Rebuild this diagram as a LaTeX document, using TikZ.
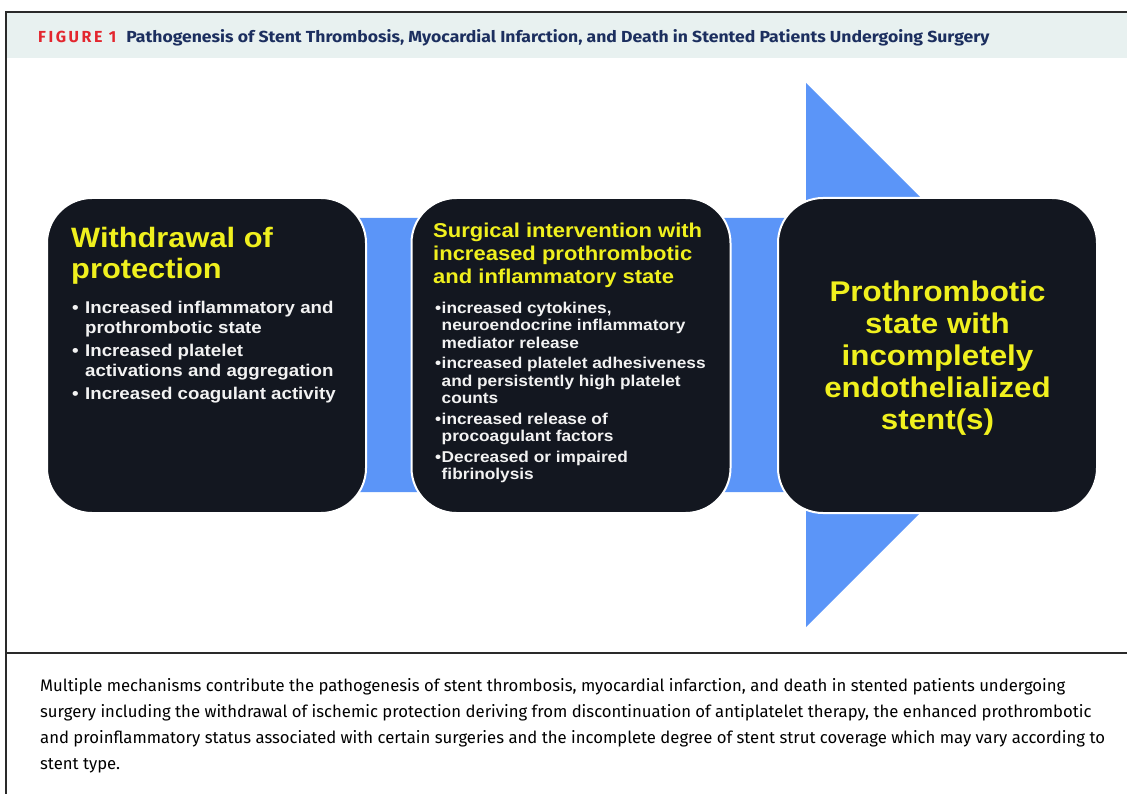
\documentclass[tikz,border=0pt]{standalone}
\usepackage{fontspec}
\setmainfont{Liberation Sans}
\newfontfamily\boxfont{Liberation Sans}[FakeStretch=1.1]
\newfontfamily\capfont{Fira Sans}
\newfontfamily\titlefont{Fira Sans}[FakeStretch=1.1]
\newfontfamily\figfont{Fira Sans}[LetterSpace=16]

\definecolor{arrowblue}{HTML}{5B95F8}
\definecolor{boxfill}{HTML}{131720}
\definecolor{hiyellow}{HTML}{F0F01E}
\definecolor{bullwhite}{HTML}{F2F2F2}
\definecolor{headband}{HTML}{E8F1F0}
\definecolor{titlenavy}{HTML}{1C2F5F}
\definecolor{figred}{HTML}{E3262E}
\definecolor{framegray}{HTML}{2A2A2A}

\tikzset{
  stagebox/.style={rounded corners=45pt, fill=boxfill, draw=white, line width=2pt,
    minimum width=319pt, minimum height=315pt, inner sep=0pt},
  headtext/.style={anchor=north west, inner sep=0pt, text=hiyellow, align=left,
    font=\boxfont\bfseries},
  listtext/.style={anchor=north west, inner sep=0pt, text=bullwhite,
    font=\boxfont\bfseries},
  frameline/.style={draw=framegray, line width=1.6pt}
}

% bullet item with hanging indent
\newcommand{\itm}[2]{\hangindent=#1\hangafter=1\noindent\makebox[#1][l]{\textbullet}#2\par}

\begin{document}
\begin{tikzpicture}[x=1pt,y=-1pt]
\useasboundingbox (0,0) rectangle (1127,794);

% header band and frame
\fill[headband] (6,12) rectangle (1127,58);
\draw[frameline] (1127,12) -- (6,12) -- (6,794);
\draw[frameline] (6,653) -- (1127,653);

\node[anchor=west, inner sep=0pt, font=\fontsize{16}{18}\selectfont]
  (title) at (38,38) {\textcolor{figred}{\figfont\bfseries FIGURE 1}\hspace{10pt}\textcolor{titlenavy}{\titlefont\bfseries Pathogenesis of Stent Thrombosis, Myocardial Infarction, and Death in Stented Patients Undergoing Surgery}};

% big block arrow behind the stages
\fill[arrowblue] (200,218) -- (806,218) -- (806,83) -- (1078,355) -- (806,627) -- (806,492) -- (200,492) -- cycle;

% stages
\node[stagebox] (s1) at (206.5,355.5) {};
\node[stagebox] (s2) at (571,355.5) {};
\node[stagebox] (s3) at (937.5,355.5) {};

% stage 1 text
\node[headtext, font=\boxfont\bfseries\fontsize{28}{31}\selectfont] (t1) at (71,227)
  {Withdrawal of\\protection};
\node[listtext] (l1) at (72,301) {\parbox[t]{290pt}{\fontsize{17}{20}\selectfont
  \setlength{\parskip}{3pt}%
  \itm{13pt}{Increased inflammatory and\\prothrombotic state}
  \itm{13pt}{Increased platelet\\activations and aggregation}
  \itm{13pt}{Increased coagulant activity}}};

% stage 2 text
\node[headtext, font=\boxfont\bfseries\fontsize{20}{23}\selectfont] (t2) at (433,223)
  {Surgical intervention with\\increased prothrombotic\\and inflammatory state};
\node[listtext] (l2) at (435,302) {\parbox[t]{290pt}{\fontsize{15.7}{17.3}\selectfont
  \setlength{\parskip}{3.5pt}%
  \itm{6.5pt}{increased cytokines,\\neuroendocrine inflammatory\\mediator release}
  \itm{6.5pt}{increased platelet adhesiveness\\and persistently high platelet\\counts}
  \itm{6.5pt}{increased release of\\procoagulant factors}
  \itm{6.5pt}{Decreased or impaired\\fibrinolysis}}};

% stage 3 text
\node[inner sep=0pt, text=hiyellow, align=center,
  font=\boxfont\bfseries\fontsize{28.5}{32}\selectfont] (t3) at (937.5,358)
  {Prothrombotic\\state with\\incompletely\\endothelialized\\stent(s)};

% caption
\node[anchor=north west, inner sep=0pt, align=left, text=black,
  font=\capfont\fontsize{16.7}{26}\selectfont] (cap) at (40,678)
  {Multiple mechanisms contribute the pathogenesis of stent thrombosis, myocardial infarction, and death in stented patients undergoing\\
   surgery including the withdrawal of ischemic protection deriving from discontinuation of antiplatelet therapy, the enhanced prothrombotic\\
   and proinflammatory status associated with certain surgeries and the incomplete degree of stent strut coverage which may vary according to\\
   stent type.};
\end{tikzpicture}
\end{document}
